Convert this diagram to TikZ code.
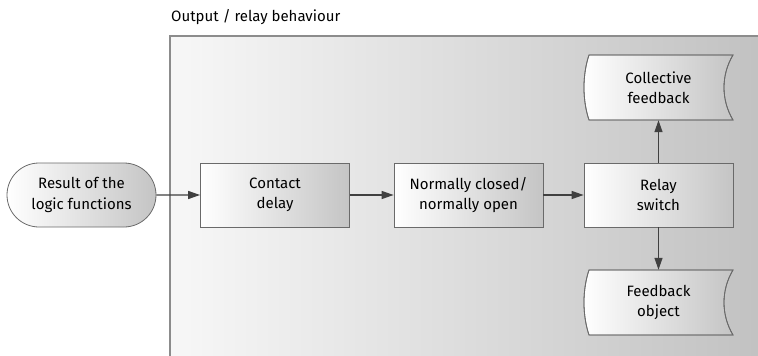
\documentclass[tikz,border=0pt]{standalone}
\usepackage{fontspec}
\setmainfont{Fira Sans}
\usetikzlibrary{arrows.meta,shapes.misc}
\definecolor{boxline}{HTML}{6A6A6A}
\definecolor{arrowc}{HTML}{404040}
\definecolor{panelline}{HTML}{8C8C8C}
\begin{document}
\begin{tikzpicture}[x=1pt,y=-1pt,
  txt/.style={font=\fontsize{15}{20.5}\selectfont, align=center, text=black, inner sep=0pt},
  procbox/.style={txt, draw=boxline, line width=0.8pt, minimum width=149pt, minimum height=64pt,
     left color=white, right color=black!23, shading angle=90},
  termbox/.style={procbox, rounded rectangle},
  datatext/.style={txt, minimum width=149pt, minimum height=65pt},
  conn/.style={draw=arrowc, line width=1.3pt, -{Triangle[length=12pt,width=8pt]}},
  datashape/.style={draw=boxline, line width=0.8pt, left color=white, right color=black!23, shading angle=90}
]
\useasboundingbox (0,0) rectangle (758,356);
% panel
\shade[left color=black!3, right color=black!24, shading angle=90] (170,36) rectangle (758,356);
\draw[panelline, line width=1.4pt] (758,36) -- (170,36) -- (170,356);
\node[anchor=base west, font=\fontsize{15}{18}\selectfont, inner sep=0pt] (title) at (171,21) {Output / relay behaviour};
% nodes
\node[termbox] (res) at (81.5,195) {Result of the\\logic functions};
\node[procbox] (cd) at (275,195) {Contact\\delay};
\node[procbox] (nc) at (468.5,195) {Normally closed/\\normally open};
\node[procbox] (rs) at (658.5,195) {Relay\\switch};
% stored data shapes
\shade[datashape] (589,55) .. controls (582.3,75) and (582.3,100) .. (589,120) -- (733,120) .. controls (721,100) and (721,75) .. (733,55) -- cycle;
\draw[boxline, line width=0.8pt] (589,55) .. controls (582.3,75) and (582.3,100) .. (589,120) -- (733,120) .. controls (721,100) and (721,75) .. (733,55) -- cycle;
\node[datatext] (cf) at (658.5,87.5) {Collective\\feedback};
\shade[datashape] (589,270) .. controls (582.3,290) and (582.3,315) .. (589,335) -- (733,335) .. controls (721,315) and (721,290) .. (733,270) -- cycle;
\draw[boxline, line width=0.8pt] (589,270) .. controls (582.3,290) and (582.3,315) .. (589,335) -- (733,335) .. controls (721,315) and (721,290) .. (733,270) -- cycle;
\node[datatext] (fo) at (658.5,302.5) {Feedback\\object};
% connectors
\draw[conn] (res) -- (cd);
\draw[conn] (cd) -- (nc);
\draw[conn] (nc) -- (rs);
\draw[conn] (rs) -- (cf);
\draw[conn] (rs) -- (fo);
\end{tikzpicture}
\end{document}
